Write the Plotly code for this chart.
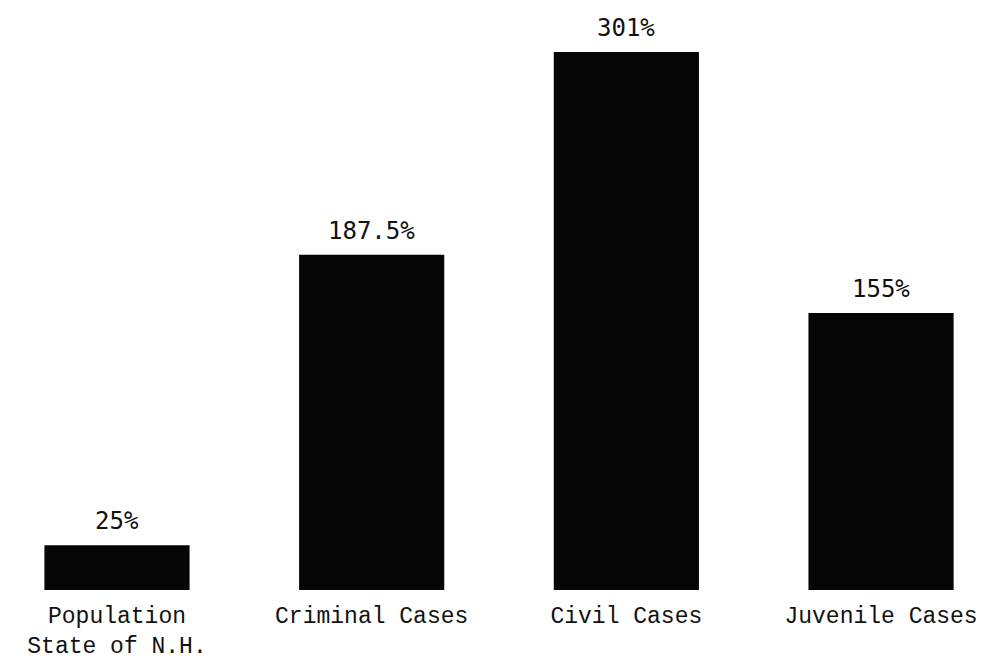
import plotly.graph_objects as go

categories = ["Population<br>State of N.H.", "Criminal Cases", "Civil Cases", "Juvenile Cases"]
values = [25, 187.5, 301, 155]
value_labels = ["25%", "187.5%", "301%", "155%"]

fig = go.Figure()
fig.add_trace(go.Bar(
    x=categories,
    y=values,
    marker=dict(color="#050505", line=dict(width=0)),
    width=0.57,
    hoverinfo="skip",
))

for c, v, t in zip(categories, values, value_labels):
    fig.add_annotation(
        x=c, y=v, text=t, showarrow=False,
        xanchor="center", yanchor="bottom", yshift=8,
        font=dict(family="DejaVu Sans Mono", size=24, color="#111111"),
    )

fig.update_layout(
    width=980, height=660,
    margin=dict(l=0, r=0, t=0, b=78),
    paper_bgcolor="white",
    plot_bgcolor="white",
    showlegend=False,
    xaxis=dict(
        range=[-0.428, 3.42],
        showgrid=False, zeroline=False, showline=False,
        ticks="", ticklabelstandoff=9,
        tickfont=dict(family="Courier New, Liberation Mono", size=23, color="#111111"),
    ),
    yaxis=dict(
        range=[0, 325.6],
        visible=False,
    ),
)

fig.write_html("out.html")
